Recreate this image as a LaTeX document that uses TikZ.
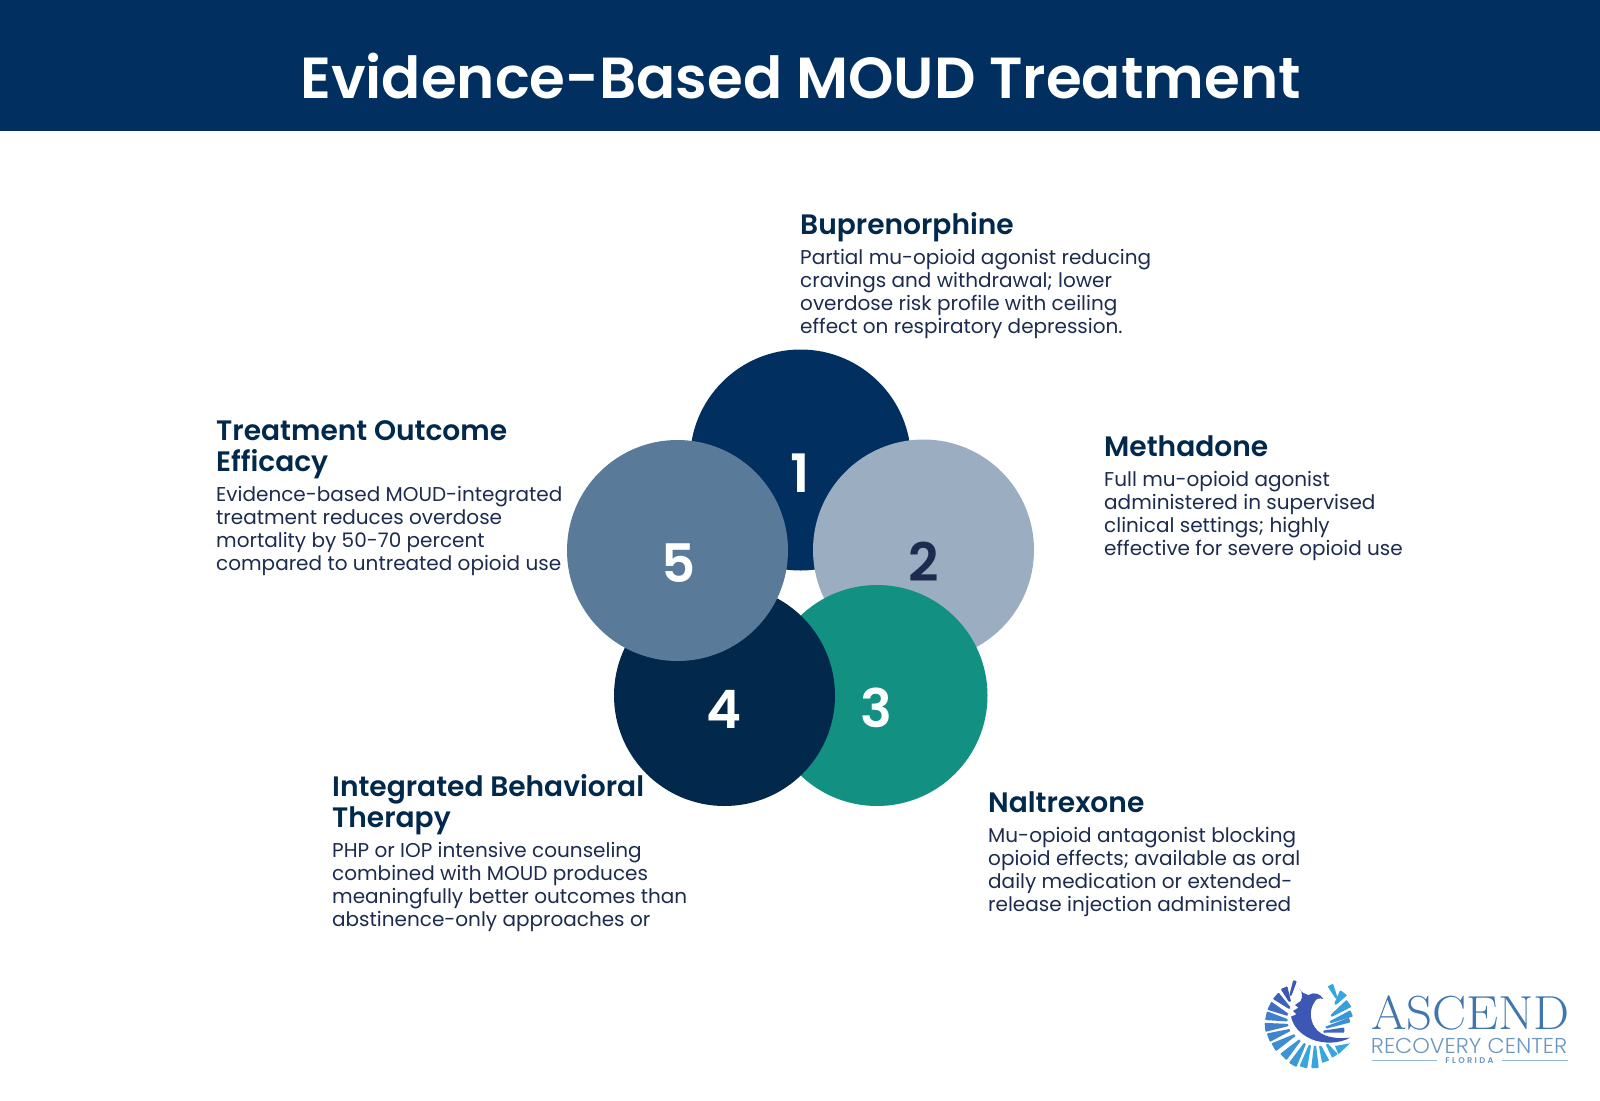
\documentclass[tikz,border=0pt]{standalone}
\usepackage{fontspec}
\usetikzlibrary{calc}
\newfontfamily\pops{Poppins}
\newfontfamily\popsemi{Poppins SemiBold}
\newfontfamily\poplight{Poppins Light}
\definecolor{navy}{HTML}{012F5F}
\definecolor{deep}{HTML}{02284C}
\definecolor{steel}{HTML}{5A7A9A}
\definecolor{mist}{HTML}{9AADC1}
\definecolor{teal2}{HTML}{129183}
\definecolor{ink}{HTML}{1D2B4F}
\definecolor{wordblue}{HTML}{3F76AE}
\definecolor{subblue}{HTML}{6C97C0}
\definecolor{ruleblue}{HTML}{94B8DC}
\definecolor{birdblue}{HTML}{3D58B4}
\colorlet{fA}{birdblue}
\definecolor{fB}{HTML}{3F7FCB}
\definecolor{fC}{HTML}{38A6DE}
\tikzset{
  disc/.style={circle,minimum size=221pt,inner sep=0pt,outer sep=0pt},
  digit/.style={anchor=base,inner sep=0pt,font=\popsemi\fontsize{53}{53}\selectfont},
  headtxt/.style={anchor=base west,inner sep=0pt,align=left,text=deep,font=\popsemi\fontsize{28.1}{31}\selectfont},
  bodytxt/.style={anchor=base west,inner sep=0pt,align=left,text=ink,font=\pops\fontsize{20}{23}\selectfont},
}
\newcommand{\feather}[6]{\fill[#6,rounded corners=0.8pt] ($(#1,#2)!1.1pt!90:(#3,#4)$) -- ($(#3,#4)!#5pt!-90:(#1,#2)$) -- ($(#3,#4)!#5pt!90:(#1,#2)$) -- ($(#1,#2)!1.1pt!-90:(#3,#4)$) -- cycle;}
\begin{document}
\begin{tikzpicture}[x=1pt,y=-1pt]
\useasboundingbox (0,0) rectangle (1600,1100);
\fill[white] (0,0) rectangle (1600,1100);
\fill[navy] (0,0) rectangle (1600,131);
\node[anchor=base,inner sep=0pt,white,font=\popsemi\fontsize{57.9}{60}\selectfont] (title) at (800.5,98.5) {Evidence-Based MOUD Treatment};
% circles
\node[disc,fill=navy] (c1) at (800.5,460) {};
\node[disc,fill=mist] (c2) at (923.5,550) {};
\node[disc,fill=teal2] (c3) at (877,695.5) {};
\node[disc,fill=deep] (c4) at (724.5,695.5) {};
\node[disc,fill=steel] (c5) at (677.5,550.5) {};
\node[digit,white] (n1) at (800.5,492.3) {1};
\node[digit,text=ink] (n2) at (923.2,581.7) {2};
\node[digit,white] (n3) at (876.7,727) {3};
\node[digit,white] (n4) at (724.5,728) {4};
\node[digit,white] (n5) at (678.8,582.2) {5};
% labels
\node[headtxt] (h1) at (800,234.7) {Buprenorphine};
\node[bodytxt] (b1) at (800,333.3) {Partial mu-opioid agonist reducing\\cravings and withdrawal; lower\\overdose risk profile with ceiling\\effect on respiratory depression.};
\node[headtxt] (h2) at (1104,456) {Methadone};
\node[bodytxt] (b2) at (1104,555.2) {Full mu-opioid agonist\\administered in supervised\\clinical settings; highly\\effective for severe opioid use};
\node[headtxt] (h3) at (988,812.3) {Naltrexone};
\node[bodytxt] (b3) at (988,911.4) {Mu-opioid antagonist blocking\\opioid effects; available as oral\\daily medication or extended-\\release injection administered};
\node[headtxt] (h4) at (332,827.9) {Integrated Behavioral\\Therapy};
\node[bodytxt] (b4) at (332,926.8) {PHP or IOP intensive counseling\\combined with MOUD produces\\meaningfully better outcomes than\\abstinence-only approaches or};
\node[headtxt] (h5) at (216,471.8) {Treatment Outcome\\Efficacy};
\node[bodytxt] (b5) at (216,570.6) {Evidence-based MOUD-integrated\\treatment reduces overdose\\mortality by 50-70 percent\\compared to untreated opioid use};
% logo wordmark
\node[anchor=base west,inner sep=0pt,xscale=1.066,text=wordblue,font=\rmfamily\fontsize{47.8}{48}\selectfont] (w1) at (1371,1029.3) {ASCEND};
\node[anchor=base west,inner sep=0pt,xscale=1.037,text=subblue,font=\poplight\fontsize{21.5}{22}\selectfont] (w2) at (1370.7,1053) {RECOVERY CENTER};
\node[anchor=base,inner sep=0pt,text=subblue,font=\popsemi\fontsize{8.3}{9}\selectfont] (w3) at (1469.5,1063.3) {F\hspace{2.3pt}L\hspace{2.3pt}O\hspace{2.3pt}R\hspace{2.3pt}I\hspace{2.3pt}D\hspace{2.3pt}A};
\draw[ruleblue,line width=0.8pt] (1372,1060.3) -- (1437,1060.3) (1502,1060.3) -- (1568,1060.3);
% phoenix
\begin{scope}[shift={(1255,975)},x=0.3333pt,y=-0.3333pt]
\feather{106}{62}{120}{17}{1.9}{fA}
\feather{105}{80}{87}{38}{3.6}{fA}
\feather{105}{100}{62}{62}{4.3}{fA!80!fB}
\feather{100}{120}{43}{92}{4.5}{fA!45!fB}
\feather{98}{136}{33}{122}{4.5}{fB}
\feather{100}{150}{30}{157}{4.5}{fB}
\feather{105}{165}{40}{188}{4.5}{fB!85!fC}
\feather{120}{180}{56}{217}{4.5}{fB!65!fC}
\feather{135}{195}{85}{246}{4.5}{fB!45!fC}
\feather{150}{205}{113}{270}{4.3}{fB!30!fC}
\feather{165}{210}{145}{277}{4}{fC}
\feather{180}{212}{180}{279}{3.8}{fC}
\feather{195}{212}{212}{260}{3.8}{fC}
\feather{215}{207}{240}{243}{3.4}{fC}
\fill[fC] (285,205) -- (240,213) -- (250,238) -- cycle;
\feather{245}{70}{226}{30}{3}{fC}
\feather{240}{88}{266}{53}{4.3}{fC}
\feather{228}{123}{282}{85}{4.3}{fC!80!fB}
\feather{225}{142}{290}{115}{3.4}{fC!60!fB}
\feather{212}{158}{284}{135}{2.5}{fC!40!fB}
\feather{205}{170}{268}{165}{2.5}{fA!60!fB}
\fill[white] (98,118) .. controls (98,170) and (140,212) .. (205,212) -- (215,200) -- (150,110) -- cycle;
\fill[birdblue] (133,40) .. controls (138,55) and (150,55) .. (160,60)
  .. controls (178,50) and (195,55) .. (205,72) .. controls (195,68) and (182,70) .. (178,82)
  .. controls (165,100) and (163,130) .. (178,155) .. controls (198,188) and (245,192) .. (285,188)
  .. controls (255,206) and (205,208) .. (168,192) .. controls (133,176) and (114,152) .. (108,125)
  -- (124,118) -- (114,108) -- (130,98) -- (120,90) -- (137,78)
  .. controls (144,65) and (142,52) .. (133,40) -- cycle;
\end{scope}
\end{tikzpicture}
\end{document}
